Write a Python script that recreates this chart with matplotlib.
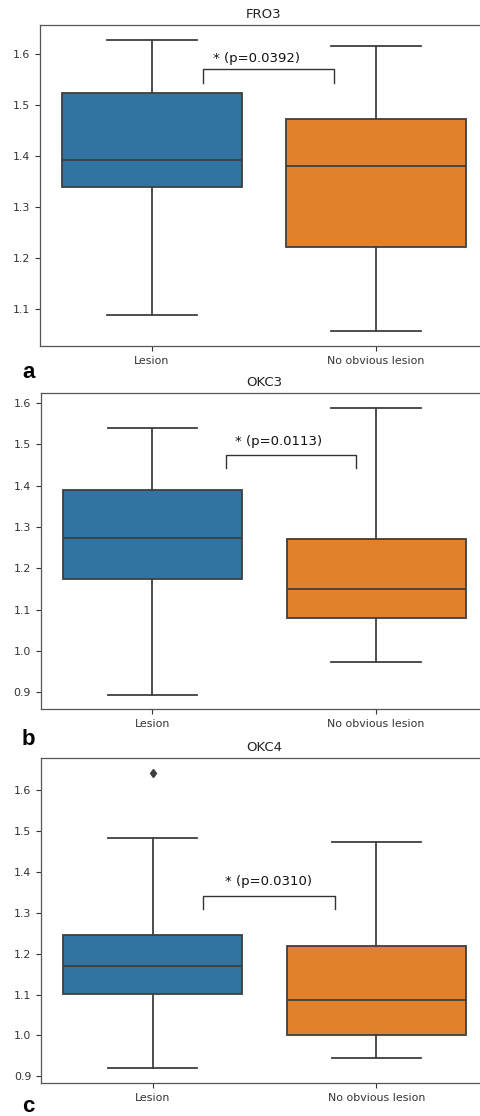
import matplotlib
matplotlib.use("Agg")
import matplotlib.pyplot as plt

categories = ["Lesion", "No obvious lesion"]
titles = ["FRO3", "OKC3", "OKC4"]
panel_labels = ["a", "b", "c"]
p_texts = ["* (p=0.0392)", "* (p=0.0113)", "* (p=0.0310)"]

# per panel: [lesion, no obvious lesion]
whislo = [[1.087, 1.056], [0.893, 0.973], [0.920, 0.945]]
q1 = [[1.339, 1.221], [1.175, 1.080], [1.1015, 1.001]]
med = [[1.393, 1.381], [1.273, 1.150], [1.171, 1.086]]
q3 = [[1.524, 1.472], [1.389, 1.270], [1.246, 1.220]]
whishi = [[1.628, 1.616], [1.539, 1.588], [1.4825, 1.474]]
fliers = [[[], []], [[], []], [[1.642], []]]

colors = ["#3274a1", "#e1812c"]
edge = "#3f3f3f"

W, H = 480, 1116
fig = plt.figure(figsize=(W / 100, H / 100), dpi=100)

# axes boxes in pixels: (left, top, bottom)
boxes_px = [(40, 25, 346), (40.5, 393.3, 709.3), (41, 758, 1083.3)]
right_px = 488
ylims = [(1.027, 1.657), (0.859, 1.623), (0.883, 1.679)]
yticks = [[1.1, 1.2, 1.3, 1.4, 1.5, 1.6],
          [0.9, 1.0, 1.1, 1.2, 1.3, 1.4, 1.5, 1.6],
          [0.9, 1.0, 1.1, 1.2, 1.3, 1.4, 1.5, 1.6]]
brackets = [(0.228, 0.8125, 1.544, 1.570), (0.328, 0.910, 1.443, 1.474), (0.226, 0.814, 1.309, 1.341)]
text_pos = [(0.272, 1.592), (0.368, 1.506), (0.324, 1.378)]
label_pos_px = [(22, 378), (22, 745), (22, 1112)]

for i in range(3):
    l, t, b = boxes_px[i]
    ax = fig.add_axes([l / W, 1 - b / H, (right_px - l) / W, (b - t) / H])
    stats = []
    for j in range(2):
        stats.append(dict(whislo=whislo[i][j], q1=q1[i][j], med=med[i][j],
                          q3=q3[i][j], whishi=whishi[i][j], fliers=fliers[i][j],
                          label=categories[j]))
    bp = ax.bxp(stats, positions=[0, 1], widths=0.8, patch_artist=True,
                showfliers=True,
                boxprops=dict(edgecolor=edge, linewidth=1.3),
                medianprops=dict(color=edge, linewidth=1.3),
                whiskerprops=dict(color=edge, linewidth=1.3),
                capprops=dict(color=edge, linewidth=1.3),
                flierprops=dict(marker="d", markerfacecolor=edge, markeredgecolor=edge,
                                markersize=4.5))
    for patch, c in zip(bp["boxes"], colors):
        patch.set_facecolor(c)
    for cap in bp["caps"]:
        x0, x1 = cap.get_xdata()
        cx = (x0 + x1) / 2
        cap.set_xdata([cx - 0.2, cx + 0.2])
    ax.set_xlim(-0.5, 1.5)
    ax.set_ylim(*ylims[i])
    ax.set_yticks(yticks[i])
    ax.set_yticklabels([f"{v:.1f}" for v in yticks[i]])
    ax.tick_params(labelsize=7.9, colors="#333333", length=3.5, width=0.8)
    for s in ax.spines.values():
        s.set_color("#555555")
        s.set_linewidth(0.9)
    ax.set_title(titles[i], fontsize=9.5, pad=5, color="#222222")
    x0, x1, yb, yt = brackets[i]
    ax.plot([x0, x0, x1, x1], [yb, yt, yt, yb], color="#333333", lw=1.0)
    tx, ty = text_pos[i]
    ax.text(tx, ty, p_texts[i], ha="left", va="center", fontsize=9.5, color="#111111")
    lx, ly = label_pos_px[i]
    fig.text(lx / W, 1 - ly / H, panel_labels[i], fontsize=16, fontweight="bold",
             family="Liberation Sans", ha="left", va="baseline")

fig.savefig("out.png", dpi=100)
